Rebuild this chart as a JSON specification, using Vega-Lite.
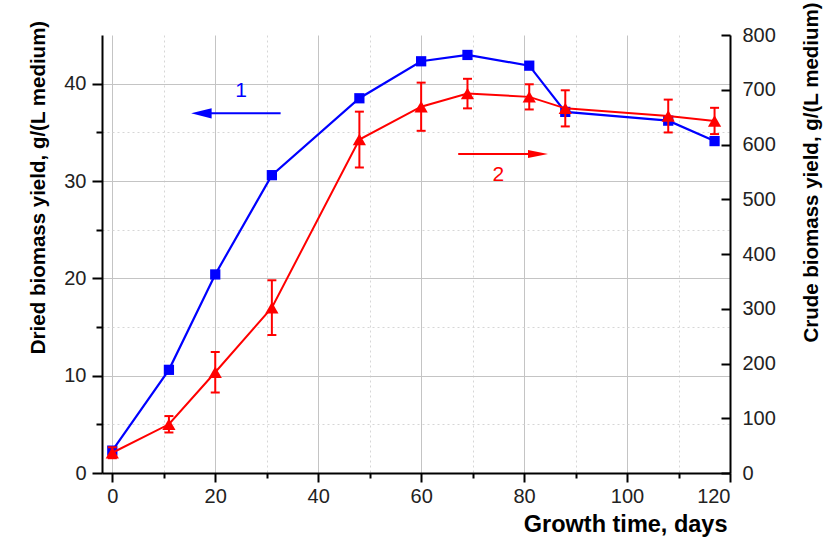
{
  "$schema": "https://vega.github.io/schema/vega-lite/v6.json",
  "width": 628,
  "height": 438,
  "autosize": "none",
  "padding": {"left": 102, "top": 35, "right": 97, "bottom": 82},
  "background": "white",
  "config": {
    "view": {"stroke": null},
    "font": "Liberation Sans",
    "axis": {
      "domainColor": "black",
      "domainWidth": 2,
      "tickColor": "black",
      "tickWidth": 2,
      "labelFont": "Liberation Sans",
      "labelFontSize": 20,
      "labelColor": "#222222",
      "titleFont": "Liberation Sans",
      "titleColor": "black",
      "titleFontWeight": "bold",
      "gridColor": "#c4c4c4",
      "gridWidth": 1,
      "gridOpacity": 1
    }
  },
  "datasets": {
    "d": [
      {"day": 0, "dried": 2.3, "crude": 37, "lo": 27, "hi": 47},
      {"day": 11, "dried": 10.6, "crude": 89, "lo": 74, "hi": 104},
      {"day": 20, "dried": 20.4, "crude": 184, "lo": 147, "hi": 221},
      {"day": 31, "dried": 30.6, "crude": 302, "lo": 252, "hi": 352},
      {"day": 48, "dried": 38.5, "crude": 609, "lo": 558, "hi": 660},
      {"day": 60, "dried": 42.3, "crude": 669, "lo": 625, "hi": 713},
      {"day": 69, "dried": 42.95, "crude": 693, "lo": 666, "hi": 720},
      {"day": 81, "dried": 41.85, "crude": 687, "lo": 664, "hi": 710},
      {"day": 88, "dried": 37.1, "crude": 666, "lo": 633, "hi": 699},
      {"day": 108, "dried": 36.2, "crude": 652, "lo": 622, "hi": 682},
      {"day": 117, "dried": 34.1, "crude": 643, "lo": 619, "hi": 667}
    ],
    "notes": [
      {"id": "1", "lx": 25.0, "ly": 39.25, "ax": 32.7, "ax2": 17.3, "hx": 17.3, "ay": 36.96},
      {"id": "2", "lx": 75.0, "ly": 30.57, "ax": 67.2, "ax2": 82.7, "hx": 82.7, "ay": 32.78}
    ]
  },
  "layer": [
    {
      "data": {"name": "d"},
      "mark": {"type": "point", "opacity": 0},
      "encoding": {
        "x": {
          "field": "day", "type": "quantitative",
          "scale": {"domain": [-2, 120], "nice": false, "zero": false},
          "axis": {
            "orient": "bottom", "values": [10, 30, 50, 70, 90, 110],
            "grid": true, "gridDash": [2, 3], "gridColor": "#d6d6d6",
            "domain": false, "labels": false, "tickSize": 5, "title": null
          }
        },
        "y": {
          "field": "dried", "type": "quantitative",
          "scale": {"domain": [0, 45], "nice": false, "zero": false},
          "axis": {
            "orient": "left", "values": [5, 15, 25, 35],
            "grid": true, "gridDash": [2, 3], "gridColor": "#d6d6d6",
            "domain": false, "labels": false, "tickSize": 6, "title": null
          }
        }
      }
    },
    {
      "data": {"name": "d"},
      "mark": {"type": "line", "color": "#0000ff", "strokeWidth": 2.2},
      "encoding": {
        "x": {
          "field": "day", "type": "quantitative",
          "scale": {"domain": [-2, 120], "nice": false, "zero": false},
          "axis": {
            "orient": "bottom", "values": [0, 20, 40, 60, 80, 100, 120],
            "grid": true, "tickSize": 9, "labelPadding": 4,
            "title": "Growth time, days", "titleFontSize": 23.5,
            "titleAlign": "right", "titleBaseline": "middle",
            "titleX": 625, "titleY": 51
          }
        },
        "y": {
          "field": "dried", "type": "quantitative",
          "scale": {"domain": [0, 45], "nice": false, "zero": false},
          "axis": {
            "orient": "left", "values": [0, 10, 20, 30, 40],
            "grid": true, "tickSize": 10, "labelPadding": 6,
            "title": "Dried biomass yield, g/(L medium)", "titleFontSize": 20.5,
            "titleAngle": 270, "titleAlign": "center", "titleBaseline": "middle",
            "titleX": -64, "titleY": 152
          }
        }
      }
    },
    {
      "data": {"name": "d"},
      "mark": {"type": "point", "shape": "square", "filled": true, "color": "#0000ff", "size": 105, "opacity": 1},
      "encoding": {
        "x": {"field": "day", "type": "quantitative", "scale": {"domain": [-2, 120], "nice": false, "zero": false}, "axis": null},
        "y": {"field": "dried", "type": "quantitative", "scale": {"domain": [0, 45], "nice": false, "zero": false}, "axis": null}
      }
    },
    {
      "data": {"name": "d"},
      "mark": {"type": "line", "color": "#ff0000", "strokeWidth": 2},
      "encoding": {
        "x": {"field": "day", "type": "quantitative", "scale": {"domain": [-2, 120], "nice": false, "zero": false}, "axis": null},
        "y": {
          "field": "crude", "type": "quantitative",
          "scale": {"domain": [0, 800], "nice": false, "zero": false},
          "axis": {
            "orient": "right", "values": [0, 100, 200, 300, 400, 500, 600, 700, 800],
            "grid": false, "tickSize": -9, "labelPadding": 21,
            "title": "Crude biomass yield, g/(L medium)", "titleFontSize": 20.5,
            "titleAngle": 270, "titleAlign": "center", "titleBaseline": "middle",
            "titleX": 81, "titleY": 137
          }
        }
      }
    },
    {
      "data": {"name": "d"},
      "mark": {"type": "rule", "color": "#ff0000", "strokeWidth": 2},
      "encoding": {
        "x": {"field": "day", "type": "quantitative", "scale": {"domain": [-2, 120], "nice": false, "zero": false}, "axis": null},
        "y": {"field": "lo", "type": "quantitative", "scale": {"domain": [0, 800], "nice": false, "zero": false}, "axis": null},
        "y2": {"field": "hi"}
      }
    },
    {
      "data": {"name": "d"},
      "mark": {"type": "tick", "orient": "horizontal", "color": "#ff0000", "size": 9, "thickness": 2, "opacity": 1},
      "encoding": {
        "x": {"field": "day", "type": "quantitative", "scale": {"domain": [-2, 120], "nice": false, "zero": false}, "axis": null},
        "y": {"field": "lo", "type": "quantitative", "scale": {"domain": [0, 800], "nice": false, "zero": false}, "axis": null}
      }
    },
    {
      "data": {"name": "d"},
      "mark": {"type": "tick", "orient": "horizontal", "color": "#ff0000", "size": 9, "thickness": 2, "opacity": 1},
      "encoding": {
        "x": {"field": "day", "type": "quantitative", "scale": {"domain": [-2, 120], "nice": false, "zero": false}, "axis": null},
        "y": {"field": "hi", "type": "quantitative", "scale": {"domain": [0, 800], "nice": false, "zero": false}, "axis": null}
      }
    },
    {
      "data": {"name": "d"},
      "mark": {"type": "point", "shape": "triangle-up", "filled": true, "color": "#ff0000", "size": 175, "opacity": 1},
      "encoding": {
        "x": {"field": "day", "type": "quantitative", "scale": {"domain": [-2, 120], "nice": false, "zero": false}, "axis": null},
        "y": {"field": "crude", "type": "quantitative", "scale": {"domain": [0, 800], "nice": false, "zero": false}, "axis": null}
      }
    },
    {
      "data": {"name": "notes"},
      "transform": [{"filter": "datum.id == '1'"}],
      "layer": [
        {
          "mark": {"type": "rule", "color": "#0000ff", "strokeWidth": 2},
          "encoding": {
            "x": {"field": "ax", "type": "quantitative", "scale": {"domain": [-2, 120], "nice": false, "zero": false}, "axis": null},
            "x2": {"field": "ax2"},
            "y": {"field": "ay", "type": "quantitative", "scale": {"domain": [0, 45], "nice": false, "zero": false}, "axis": null}
          }
        },
        {
          "mark": {"type": "point", "shape": "M-1,0L1,-0.5L1,0.5Z", "filled": true, "color": "#0000ff", "size": 420, "opacity": 1},
          "encoding": {
            "x": {"field": "hx", "type": "quantitative", "scale": {"domain": [-2, 120], "nice": false, "zero": false}, "axis": null},
            "y": {"field": "ay", "type": "quantitative", "scale": {"domain": [0, 45], "nice": false, "zero": false}, "axis": null}
          }
        },
        {
          "mark": {"type": "text", "color": "#0000ff", "fontSize": 21, "font": "Liberation Sans", "baseline": "middle", "align": "center"},
          "encoding": {
            "x": {"field": "lx", "type": "quantitative", "scale": {"domain": [-2, 120], "nice": false, "zero": false}, "axis": null},
            "y": {"field": "ly", "type": "quantitative", "scale": {"domain": [0, 45], "nice": false, "zero": false}, "axis": null},
            "text": {"field": "id"}
          }
        }
      ]
    },
    {
      "data": {"name": "notes"},
      "transform": [{"filter": "datum.id == '2'"}],
      "layer": [
        {
          "mark": {"type": "rule", "color": "#ff0000", "strokeWidth": 2},
          "encoding": {
            "x": {"field": "ax", "type": "quantitative", "scale": {"domain": [-2, 120], "nice": false, "zero": false}, "axis": null},
            "x2": {"field": "ax2"},
            "y": {"field": "ay", "type": "quantitative", "scale": {"domain": [0, 45], "nice": false, "zero": false}, "axis": null}
          }
        },
        {
          "mark": {"type": "point", "shape": "M1,0L-1,-0.4L-1,0.4Z", "filled": true, "color": "#ff0000", "size": 400, "opacity": 1},
          "encoding": {
            "x": {"field": "hx", "type": "quantitative", "scale": {"domain": [-2, 120], "nice": false, "zero": false}, "axis": null},
            "y": {"field": "ay", "type": "quantitative", "scale": {"domain": [0, 45], "nice": false, "zero": false}, "axis": null}
          }
        },
        {
          "mark": {"type": "text", "color": "#ff0000", "fontSize": 21, "font": "Liberation Sans", "baseline": "middle", "align": "center"},
          "encoding": {
            "x": {"field": "lx", "type": "quantitative", "scale": {"domain": [-2, 120], "nice": false, "zero": false}, "axis": null},
            "y": {"field": "ly", "type": "quantitative", "scale": {"domain": [0, 45], "nice": false, "zero": false}, "axis": null},
            "text": {"field": "id"}
          }
        }
      ]
    }
  ],
  "resolve": {"scale": {"y": "independent"}, "axis": {"x": "independent", "y": "independent"}}
}
